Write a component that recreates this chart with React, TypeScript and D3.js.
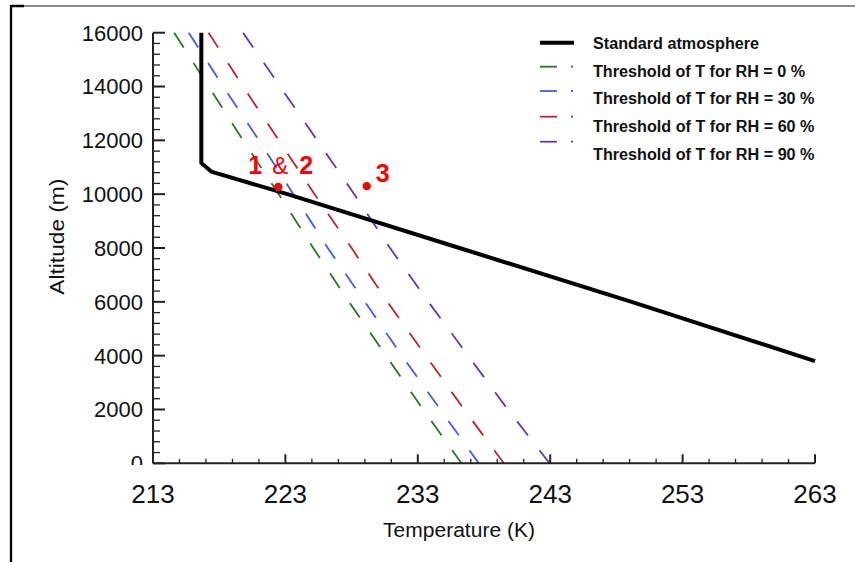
import React from "react";
import * as d3 from "d3";

// ---------- data ----------
const tempTicks = [213, 223, 233, 243, 253, 263];
const tempMinorTicks = d3.range(213, 263.01, 2);
const altTicks = [0, 2000, 4000, 6000, 8000, 10000, 12000, 14000, 16000];
const altMinorTicks = d3.range(0, 16000.1, 400);

// standard atmosphere profile
const stdAlt = [16000, 11160, 10840, 10000, 8000, 6000, 3800];
const stdTemp = [216.65, 216.65, 217.4, 223.15, 236.15, 249.15, 263.0];

// threshold temperature profiles (altitude levels shared)
const thrAlt = [16000, 14000, 12000, 10000, 8000, 6000, 4000, 2000, 0];
const thrRH0 = [214.6, 217.2, 219.8, 222.5, 225.1, 227.8, 230.6, 233.4, 236.3];
const thrRH30 = [215.7, 218.3, 221.0, 223.6, 226.2, 229.0, 231.8, 234.7, 237.6];
const thrRH60 = [217.2, 219.8, 222.5, 225.2, 228.0, 230.7, 233.6, 236.5, 239.5];
const thrRH90 = [219.8, 222.6, 225.4, 228.2, 230.9, 233.8, 236.8, 239.8, 242.95];

const seriesLabels = [
  "Threshold of T for RH = 0 %",
  "Threshold of T for RH = 30 %",
  "Threshold of T for RH = 60 %",
  "Threshold of T for RH = 90 %",
];
const stdLabel = "Standard atmosphere";

// marked points
const markTemp = [222.46, 229.14];
const markAlt = [10270, 10300];

const FONT = "'Liberation Sans', Arial, Helvetica, sans-serif";

export default function App() {
  const W = 855;
  const H = 562;
  const x = d3.scaleLinear().domain([213, 263]).range([153, 815]);
  const y = d3.scaleLinear().domain([0, 16000]).range([463.3, 32.7]);

  const colors = ["#237a23", "#3b5bff", "#c0222a", "#6a2fc4"];
  const thr = [thrRH0, thrRH30, thrRH60, thrRH90];

  const line = d3
    .line<[number, number]>()
    .x((d) => x(d[0]))
    .y((d) => y(d[1]));

  const stdPts: [number, number][] = stdTemp.map((t, i) => [t, stdAlt[i]]);

  const thrPaths = thr.map((vals) => {
    const pts: [number, number][] = vals.map((t, i) => [t, thrAlt[i]]);
    let L = 0;
    for (let i = 1; i < pts.length; i++) {
      L += Math.hypot(x(pts[i][0]) - x(pts[i - 1][0]), y(pts[i][1]) - y(pts[i - 1][1]));
    }
    const vSpan = Math.abs(y(thrAlt[0]) - y(thrAlt[thrAlt.length - 1]));
    const k = L / vSpan;
    return { d: line(pts) as string, dash: `${(14.6 * k).toFixed(2)} ${(15.2 * k).toFixed(2)}` };
  });

  const axisColor = "#222";

  // legend layout
  const legX0 = 540;
  const legTextX = 593;
  const legBase = [49.3, 76.7, 104.3, 132.3, 160];
  const legLineY = [42.7, 66.7, 91, 116.7, 141.7];
  const legWidths = [166, 212, 221.5, 221.5, 221.5];

  return (
    <svg
      width={W}
      height={H}
      style={{ position: "absolute", left: 0, top: 0, background: "#fff" }}
      fontFamily={FONT}
    >
      <defs>
        <clipPath id="ylabclip">
          <rect x={0} y={0} width={152} height={465} />
        </clipPath>
        <clipPath id="plotclip">
          <rect x={153} y={20} width={663} height={444} />
        </clipPath>
      </defs>
      <rect x={0} y={0} width={W} height={H} fill="#fff" />

      {/* outer frame fragments */}
      <line x1={11} x2={855} y1={6} y2={6} stroke="#666" strokeWidth={1.5} />
      <line x1={11} x2={24} y1={6} y2={6} stroke="#000" strokeWidth={2.5} />
      <line x1={11} x2={11} y1={5} y2={562} stroke="#000" strokeWidth={2.3} />

      {/* threshold lines */}
      <g clipPath="url(#plotclip)">
        {thrPaths.map((p, i) => (
          <path
            key={i}
            d={p.d}
            fill="none"
            stroke={colors[i]}
            strokeWidth={1.8}
            strokeDasharray={p.dash}
          />
        ))}
        {/* standard atmosphere */}
        <path
          d={line(stdPts) as string}
          fill="none"
          stroke="#000"
          strokeWidth={4}
          strokeLinejoin="round"
        />
      </g>

      {/* axes */}
      <line x1={x(213)} x2={x(263)} y1={y(0)} y2={y(0)} stroke={axisColor} strokeWidth={2} />
      <line x1={x(213)} x2={x(213)} y1={y(0)} y2={y(16000)} stroke={axisColor} strokeWidth={2} />
      {tempMinorTicks.map((t) => {
        const major = tempTicks.includes(Math.round(t));
        return (
          <line
            key={"xt" + t}
            x1={x(t)}
            x2={x(t)}
            y1={y(0)}
            y2={y(0) - (major ? 9 : 4.5)}
            stroke={axisColor}
            strokeWidth={major ? 2 : 1.3}
          />
        );
      })}
      {altMinorTicks.map((a) => {
        const major = a % 2000 === 0;
        return (
          <line
            key={"yt" + a}
            x1={x(213)}
            x2={x(213) + (major ? 12 : 7)}
            y1={y(a)}
            y2={y(a)}
            stroke={axisColor}
            strokeWidth={major ? 2 : 1.3}
          />
        );
      })}
      {tempTicks.map((t) => (
        <text key={"xl" + t} x={x(t)} y={503} textAnchor="middle" fontSize={26} fill="#111">
          {t}
        </text>
      ))}
      <g clipPath="url(#ylabclip)">
        {altTicks.map((a) => (
          <text
            key={"yl" + a}
            x={143}
            y={y(a)}
            dy="0.36em"
            textAnchor="end"
            fontSize={22}
            fill="#111"
          >
            {a}
          </text>
        ))}
      </g>

      {/* axis titles */}
      <text x={383} y={537} fontSize={20.5} fill="#111" textLength={152} lengthAdjust="spacingAndGlyphs">
        Temperature (K)
      </text>
      <text
        transform={`translate(63.5,${236.7}) rotate(-90)`}
        textAnchor="middle"
        fontSize={20}
        fill="#111"
        textLength={116}
        lengthAdjust="spacingAndGlyphs"
      >
        Altitude (m)
      </text>

      {/* marked points */}
      {markTemp.map((t, i) => (
        <circle key={"m" + i} cx={x(t)} cy={y(markAlt[i])} r={4.2} fill="#ff0000" />
      ))}
      <text x={x(markTemp[0]) - 30} y={174} fontSize={25} fontWeight="bold" fill="#ff0000">
        1
      </text>
      <text x={x(markTemp[0]) - 6} y={174} fontSize={24} fill="#ff0000">
        &amp;
      </text>
      <text x={x(markTemp[0]) + 21} y={174} fontSize={25} fontWeight="bold" fill="#ff0000">
        2
      </text>
      <text x={x(markTemp[1]) + 9} y={181.7} fontSize={25} fontWeight="bold" fill="#ff0000">
        3
      </text>

      {/* legend */}
      <line x1={legX0} x2={legX0 + 34} y1={legLineY[0]} y2={legLineY[0]} stroke="#000" strokeWidth={4} />
      {colors.map((c, i) => (
        <g key={"lg" + i}>
          <line x1={legX0} x2={legX0 + 17} y1={legLineY[i + 1]} y2={legLineY[i + 1]} stroke={c} strokeWidth={1.8} />
          <line x1={legX0 + 31} x2={legX0 + 33} y1={legLineY[i + 1]} y2={legLineY[i + 1]} stroke={c} strokeWidth={1.8} />
        </g>
      ))}
      {[stdLabel, ...seriesLabels].map((s, i) => (
        <text
          key={"lt" + i}
          x={legTextX}
          y={legBase[i]}
          fontSize={16}
          fontWeight="bold"
          fill="#111"
          textLength={legWidths[i]}
          lengthAdjust="spacingAndGlyphs"
        >
          {s}
        </text>
      ))}
    </svg>
  );
}
